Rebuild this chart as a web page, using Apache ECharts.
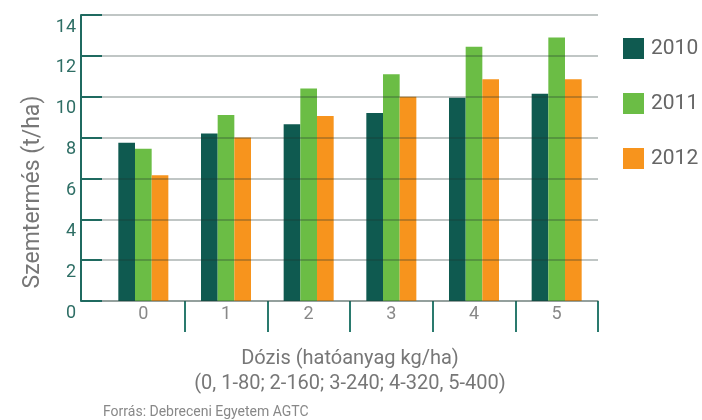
<!DOCTYPE html>
<html>
<head>
<meta charset="utf-8">
<script src="https://cdn.jsdelivr.net/npm/echarts@6/dist/echarts.min.js"></script>
<style>
  html, body { margin: 0; padding: 0; background: #fff; }
  #chart { width: 702px; height: 420px; }
</style>
</head>
<body>
<div id="chart"></div>
<script>
// Dose categories (active ingredient kg/ha groups)
const categories = ['0', '1', '2', '3', '4', '5'];

// Grain yield (t/ha) per year
const yield2010 = [7.75, 8.2, 8.65, 9.2, 9.95, 10.15];
const yield2011 = [7.45, 9.1, 10.4, 11.1, 12.45, 12.9];
const yield2012 = [6.15, 8.0, 9.05, 10.0, 10.85, 10.85];

const seriesNames = ['2010', '2011', '2012'];
const seriesColors = ['#0f5a50', '#6bbd45', '#f7941d'];

const yTicks = { min: 0, max: 14, interval: 2 };

const FONT = 'Roboto';
const TEAL = '#1f6a60';

const chart = echarts.init(document.getElementById('chart'), null, { renderer: 'canvas' });

const seriesData = [yield2010, yield2011, yield2012];

chart.setOption({
  animation: false,
  textStyle: { fontFamily: FONT },
  grid: { left: 102, right: 104, top: 15, bottom: 119 },
  legend: {
    orient: 'vertical',
    left: 623,
    top: 37,
    padding: 0,
    itemWidth: 21,
    itemHeight: 21,
    itemGap: 32,
    icon: 'rect',
    data: seriesNames,
    textStyle: { fontFamily: FONT, fontSize: 21, lineHeight: 21, color: '#666', padding: [2, 0, 0, 2] }
  },
  xAxis: {
    type: 'category',
    data: categories,
    boundaryGap: true,
    axisLine: { lineStyle: { color: '#c3cbc8', width: 2 } },
    axisTick: {
      show: true,
      length: 31,
      interval: function (index) { return index > 0; },
      lineStyle: { color: '#2a7a6e', width: 2 }
    },
    axisLabel: { color: '#888', fontSize: 18, margin: 3, lineHeight: 20 },
    name: 'Dózis (hatóanyag kg/ha)\n(0, 1-80; 2-160; 3-240; 4-320, 5-400)',
    nameLocation: 'middle',
    nameGap: 45,
    nameTextStyle: { color: '#777', fontSize: 20, lineHeight: 25, fontFamily: FONT }
  },
  yAxis: {
    type: 'value',
    min: yTicks.min,
    max: yTicks.max,
    interval: yTicks.interval,
    offset: 21,
    z: 3,
    axisLine: { show: true, lineStyle: { color: TEAL, width: 2 } },
    axisTick: { show: true, inside: true, length: 21, lineStyle: { color: TEAL, width: 2 } },
    axisLabel: {
      color: '#2e6e65',
      fontSize: 18,
      margin: 5,
      verticalAlign: 'top',
      lineHeight: 24
    },
    splitLine: { show: true, lineStyle: { color: 'rgba(30,50,45,0.28)', width: 2 } }
  },
  graphic: [
    {
      type: 'text',
      x: 33,
      y: 192,
      rotation: Math.PI / 2,
      style: {
        text: 'Szemtermés (t/ha)',
        fontFamily: FONT,
        fontSize: 23,
        fill: '#777',
        align: 'center',
        verticalAlign: 'middle'
      }
    },
    {
      type: 'text',
      x: 103,
      y: 412,
      style: {
        text: 'Forrás: Debreceni Egyetem AGTC',
        fontFamily: FONT,
        fontSize: 14,
        fill: '#888',
        align: 'left',
        verticalAlign: 'middle'
      }
    }
  ],
  series: seriesNames.map(function (name, i) {
    return {
      name: name,
      type: 'bar',
      data: seriesData[i],
      barGap: '0%',
      barCategoryGap: '39.5%',
      itemStyle: { color: seriesColors[i] }
    };
  })
});
</script>
</body>
</html>
